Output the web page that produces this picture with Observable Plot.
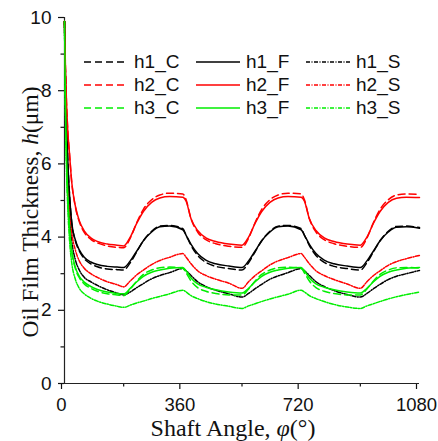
<!DOCTYPE html>
<html><head><meta charset="utf-8">
<script src="https://cdn.jsdelivr.net/npm/d3@7"></script>
<script src="https://cdn.jsdelivr.net/npm/@observablehq/plot@0.6"></script>
<style>
body{margin:0;background:#fff}
#wrap{position:relative;width:438px;height:441px;overflow:hidden}
.legt{position:absolute;font:19px "Liberation Sans",Arial,sans-serif;line-height:1;color:#111;white-space:nowrap}
.legs{position:absolute}
</style></head><body><div id="wrap"></div>
<script>
// Shaft angle samples (deg)
const angle = [0,3,6,10,15,22,33,45,60,80,100,130,160,
  180,200,220,240,265,290,320,360,370,385,405,430,460,500,
  540,560,580,600,625,650,680,720,730,745,765,790,820,860,
  900,920,940,960,985,1010,1040,1080];

// Oil film thickness (um)
const h1_C = [9.9,8.3,7.2,6.1,5.2,4.4,3.9,3.62,3.41,3.27,3.19,3.13,3.11,
  3.1,3.3,3.6,3.9,4.16,4.3,4.32,4.23,4.05,3.77,3.5,3.31,3.2,3.14,
  3.1,3.3,3.6,3.9,4.16,4.3,4.32,4.23,4.05,3.77,3.5,3.31,3.2,3.14,
  3.1,3.3,3.6,3.9,4.16,4.29,4.3,4.26];
const h2_C = [9.9,8.6,7.7,6.9,6.3,5.5,4.83,4.42,4.13,3.94,3.84,3.76,3.72,
  3.71,3.97,4.4,4.76,5.02,5.15,5.2,5.18,5.02,4.5,4.14,3.93,3.82,3.75,
  3.72,3.97,4.4,4.76,5.02,5.15,5.2,5.18,5.02,4.5,4.14,3.93,3.82,3.75,
  3.72,3.97,4.4,4.76,5.02,5.15,5.18,5.17];
const h3_C = [9.9,7.6,6.2,5.1,4.3,3.62,3.14,2.89,2.72,2.6,2.52,2.45,2.42,
  2.4,2.58,2.8,2.98,3.1,3.16,3.18,3.15,3.02,2.8,2.62,2.52,2.46,2.42,
  2.42,2.58,2.8,2.98,3.1,3.16,3.18,3.15,3.02,2.8,2.62,2.52,2.46,2.42,
  2.42,2.58,2.8,2.98,3.1,3.16,3.17,3.15];
const h1_F = [9.9,8.3,7.2,6.1,5.2,4.4,3.92,3.65,3.45,3.32,3.25,3.2,3.18,
  3.17,3.35,3.62,3.9,4.14,4.28,4.3,4.2,4.05,3.8,3.55,3.37,3.27,3.21,
  3.17,3.35,3.62,3.9,4.14,4.28,4.3,4.2,4.05,3.8,3.55,3.37,3.27,3.21,
  3.17,3.35,3.62,3.9,4.14,4.27,4.28,4.24];
const h2_F = [9.9,8.6,7.7,6.9,6.3,5.5,4.85,4.45,4.17,3.98,3.88,3.81,3.78,
  3.76,4.0,4.38,4.7,4.95,5.07,5.11,5.09,4.98,4.5,4.18,3.98,3.88,3.81,
  3.78,4.0,4.38,4.7,4.95,5.07,5.11,5.09,4.98,4.5,4.18,3.98,3.88,3.81,
  3.78,4.0,4.38,4.7,4.95,5.06,5.09,5.08];
const h3_F = [9.9,7.6,6.2,5.1,4.3,3.65,3.18,2.93,2.77,2.65,2.57,2.5,2.46,
  2.45,2.6,2.78,2.93,3.04,3.1,3.15,3.17,3.08,2.88,2.72,2.63,2.56,2.5,
  2.47,2.6,2.78,2.93,3.04,3.1,3.15,3.17,3.08,2.88,2.72,2.63,2.56,2.5,
  2.47,2.6,2.78,2.93,3.04,3.1,3.15,3.17];
const h1_S = [9.9,8.0,6.7,5.5,4.6,3.9,3.38,3.1,2.9,2.78,2.68,2.56,2.47,
  2.42,2.5,2.62,2.73,2.86,2.95,3.03,3.14,3.08,2.95,2.78,2.65,2.55,2.45,
  2.36,2.46,2.59,2.71,2.85,2.94,3.03,3.14,3.08,2.95,2.78,2.65,2.54,2.43,
  2.36,2.46,2.59,2.71,2.84,2.93,3.0,3.09];
const h2_S = [9.9,8.1,6.9,5.8,4.9,4.15,3.65,3.35,3.15,3.0,2.9,2.78,2.7,
  2.64,2.8,2.97,3.1,3.25,3.36,3.45,3.55,3.45,3.27,3.08,2.95,2.85,2.74,
  2.6,2.78,2.95,3.08,3.24,3.35,3.44,3.55,3.45,3.27,3.08,2.95,2.84,2.72,
  2.6,2.78,2.95,3.08,3.23,3.33,3.41,3.5];
const h3_S = [9.9,7.4,5.9,4.8,3.95,3.3,2.85,2.6,2.45,2.33,2.25,2.17,2.11,
  2.08,2.14,2.2,2.25,2.32,2.38,2.45,2.55,2.5,2.4,2.32,2.24,2.17,2.11,
  2.05,2.12,2.18,2.24,2.31,2.37,2.44,2.55,2.5,2.4,2.32,2.24,2.16,2.09,
  2.05,2.12,2.18,2.24,2.31,2.37,2.43,2.5];

const xTicks = [0,360,720,1080];
const xMinor = [180,540,900];
const yTicks = [0,2,4,6,8,10];
const yMinor = [1,3,5,7,9];

const RED = "#ff0000", GREEN = "#00ee00", BLACK = "#000000";
const DASH = "7,4", DOT = "4,1.5,1,1.5";

const seriesList = [
  {name:"h1_C", vals:h1_C, color:BLACK, dash:DASH, col:0, row:0},
  {name:"h2_C", vals:h2_C, color:RED,   dash:DASH, col:0, row:1},
  {name:"h3_C", vals:h3_C, color:GREEN, dash:DASH, col:0, row:2},
  {name:"h1_F", vals:h1_F, color:BLACK, dash:null, col:1, row:0},
  {name:"h2_F", vals:h2_F, color:RED,   dash:null, col:1, row:1},
  {name:"h3_F", vals:h3_F, color:GREEN, dash:null, col:1, row:2},
  {name:"h1_S", vals:h1_S, color:BLACK, dash:DOT,  col:2, row:0},
  {name:"h2_S", vals:h2_S, color:RED,   dash:DOT,  col:2, row:1},
  {name:"h3_S", vals:h3_S, color:GREEN, dash:DOT,  col:2, row:2}
];

const drawOrder = [6,7,8,0,1,2,3,4,5];
const lineMarks = drawOrder.map(i => {
  const s = seriesList[i];
  const rows = angle.map((a, k) => ({x: a, y: s.vals[k]}));
  return Plot.line(rows, {x:"x", y:"y", stroke:s.color, strokeWidth:1.5,
    strokeDasharray: s.dash || undefined, curve:"monotone-x"});
});

const chart = Plot.plot({
  width:438, height:441,
  marginLeft:64, marginRight:19, marginTop:17, marginBottom:58,
  x:{domain:[0,1080]},
  y:{domain:[0,10]},
  style:{fontFamily:'"Liberation Sans", Arial, sans-serif', fontSize:"18.5px", color:"#111", background:"#fff", overflow:"visible"},
  marks:[
    Plot.axisX({ticks:xTicks, tickSize:6, tickPadding:8, dx:-3, label:null, tickFormat:d=>String(d), fontSize:18.5, strokeWidth:1.2}),
    Plot.axisX({ticks:xMinor, tickSize:3.5, text:null, label:null, strokeWidth:1.2}),
    Plot.axisY({ticks:yTicks, tickSize:6, tickPadding:7, label:null, tickFormat:d=>String(d), fontSize:19, strokeWidth:1.2}),
    Plot.axisY({ticks:yMinor, tickSize:3.5, text:null, label:null, strokeWidth:1.2}),
    Plot.ruleX([0], {strokeWidth:1.2, stroke:"#222"}),
    Plot.ruleY([0], {strokeWidth:1.2, stroke:"#222"}),
    ...lineMarks
  ]
});

const svg = d3.select(chart);
const xl = svg.append("text").attr("x", 233).attr("y", 436).attr("text-anchor","middle")
  .attr("font-family",'"Liberation Serif", "Times New Roman", serif').attr("font-size",24).attr("fill","#111");
xl.append("tspan").text("Shaft Angle, ");
xl.append("tspan").attr("font-style","italic").text("φ");
xl.append("tspan").text("(°)");

const yl = svg.append("text").attr("transform","translate(38,212) rotate(-90)").attr("text-anchor","middle")
  .attr("font-family",'"Liberation Serif", "Times New Roman", serif').attr("font-size",23.5).attr("fill","#111");
yl.append("tspan").text("Oil Film Thickness, ");
yl.append("tspan").attr("font-style","italic").text("h");
yl.append("tspan").text("(μm)");

const wrap = document.getElementById("wrap");
wrap.appendChild(chart);

// Legend (HTML overlay)
const colLine = [84, 196, 306];
const rowY = [62, 85, 108];
seriesList.forEach(s => {
  const lx = colLine[s.col], ry = rowY[s.row];
  const sw = document.createElementNS("http://www.w3.org/2000/svg","svg");
  sw.setAttribute("class","legs");
  sw.setAttribute("width","44"); sw.setAttribute("height","10");
  sw.style.left = lx + "px"; sw.style.top = (ry - 5) + "px";
  const ln = document.createElementNS("http://www.w3.org/2000/svg","line");
  ln.setAttribute("x1","0"); ln.setAttribute("x2","44");
  ln.setAttribute("y1","5"); ln.setAttribute("y2","5");
  ln.setAttribute("stroke", s.color); ln.setAttribute("stroke-width","1.5");
  if (s.dash) ln.setAttribute("stroke-dasharray", s.dash);
  sw.appendChild(ln);
  wrap.appendChild(sw);
  const t = document.createElement("div");
  t.className = "legt";
  t.textContent = s.name;
  t.style.left = (lx + 50) + "px";
  t.style.top = (ry - 10) + "px";
  wrap.appendChild(t);
});
</script></body></html>
